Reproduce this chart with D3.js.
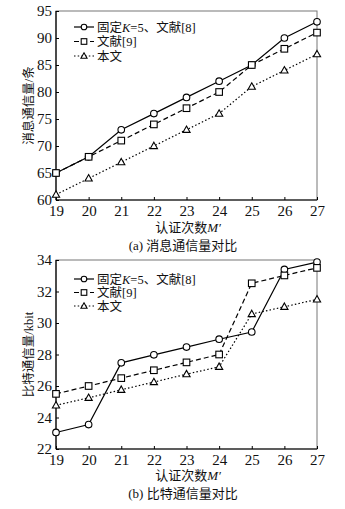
<!DOCTYPE html>
<html><head><meta charset="utf-8">
<script src="https://cdn.jsdelivr.net/npm/d3@7"></script>
<style>body{margin:0;background:#fff}svg{display:block}</style>
</head><body>
<svg id="c" width="345" height="509"></svg>
<script>
const xValues = [19,20,21,22,23,24,25,26,27];
const seriesNames = ["固定K=5、文献[8]","文献[9]","本文"];
const msgFixed = [65,68,73,76,79,82,85,90,93];
const msgRef9 = [65,68,71,74,77,80,85,88,91];
const msgOurs = [61,64,67,70,73,76,81,84,87];
const bitFixed = [23.05,23.55,27.47,27.98,28.47,28.97,29.43,33.4,33.87];
const bitRef9 = [25.5,26.0,26.5,27.0,27.5,28.0,32.52,33.02,33.5];
const bitOurs = [24.77,25.25,25.76,26.25,26.75,27.22,30.57,31.03,31.5];
const msgTicks = [60,65,70,75,80,85,90,95];
const bitTicks = [22,24,26,28,30,32,34];

const svg = d3.select("#c");
const serif = "'Liberation Serif','Times New Roman',serif";
const cjk = "'Liberation Serif','Noto Sans CJK SC',serif";

function chart(top, bottom, yDomain, yTicks, series, yLabel, xLabelY, caption, captionY, legendY) {
  const x = d3.scaleLinear().domain([19,27]).range([56,317]);
  const y = d3.scaleLinear().domain(yDomain).range([bottom, top]);
  const g = svg.append("g");
  g.append("rect").attr("x",56).attr("y",top).attr("width",261).attr("height",bottom-top)
    .attr("fill","none").attr("stroke","#777").attr("stroke-width",1);
  const ya = g.append("g").attr("transform","translate(56,0)")
    .call(d3.axisLeft(y).tickValues(yTicks).tickSize(-3).tickPadding(4).tickFormat(d3.format("d")));
  const xa = g.append("g").attr("transform",`translate(0,${bottom})`)
    .call(d3.axisBottom(x).tickValues(xValues).tickSize(-3).tickPadding(5).tickFormat(d3.format("d")));
  [ya,xa].forEach(a=>{
    a.select(".domain").attr("stroke","#000").attr("stroke-width",1.2);
    a.selectAll(".tick line").attr("stroke","#000");
    a.selectAll("text").attr("font-family",serif).attr("font-size",15).attr("fill","#111");
  });
  ya.select(".domain").attr("d",`M0,${top}V${bottom}`);
  xa.select(".domain").attr("d",`M56,0H317`);
  const styles = [
    {dash:null, marker:"circle"},
    {dash:"5,3", marker:"square"},
    {dash:"1.5,2.2", marker:"triangle"}
  ];
  series.forEach((vals,i)=>{
    const line = d3.line().x((d,j)=>x(xValues[j])).y(d=>y(d));
    g.append("path").attr("d",line(vals)).attr("fill","none").attr("stroke","#000")
      .attr("stroke-width",1.2).attr("stroke-dasharray",styles[i].dash);
  });
  function marker(sel, type, cx, cy, s) {
    s = s || 1;
    if (type==="circle") sel.append("circle").attr("cx",cx).attr("cy",cy).attr("r",3.3*s)
      .attr("fill","#fff").attr("stroke","#000").attr("stroke-width",1.1);
    else if (type==="square") sel.append("rect").attr("x",cx-3.3*s).attr("y",cy-3.3*s).attr("width",6.6*s).attr("height",6.6*s)
      .attr("fill","#fff").attr("stroke","#000").attr("stroke-width",1.1);
    else sel.append("path").attr("d",`M${cx},${cy-3.8*s}L${cx+3.6*s},${cy+2.6*s}L${cx-3.6*s},${cy+2.6*s}Z`)
      .attr("fill","#fff").attr("stroke","#000").attr("stroke-width",1.1);
  }
  series.forEach((vals,i)=>{
    vals.forEach((v,j)=>marker(g, styles[i].marker, x(xValues[j]), y(v)));
  });
  seriesNames.forEach((name,i)=>{
    const ly = legendY[i];
    g.append("line").attr("x1",74).attr("x2",94).attr("y1",ly).attr("y2",ly)
      .attr("stroke","#000").attr("stroke-width",1.2).attr("stroke-dasharray",styles[i].dash);
    marker(g, styles[i].marker, 84, ly, 0.85);
    const t = g.append("text").attr("x",97).attr("y",ly+4.5).attr("font-family",cjk).attr("font-size",12.5).attr("fill","#111");
    if (i===0) {
      t.append("tspan").text("固定");
      t.append("tspan").attr("font-style","italic").attr("font-family",serif).text("K");
      t.append("tspan").attr("font-family",serif).text("=5");
      t.append("tspan").text("、文献");
      t.append("tspan").attr("font-family",serif).text("[8]");
    } else if (i===1) {
      t.append("tspan").text("文献");
      t.append("tspan").attr("font-family",serif).text("[9]");
    } else t.text(name);
  });
  g.append("text").attr("transform",`translate(33,${(top+bottom)/2}) rotate(-90)`)
    .attr("text-anchor","middle").attr("font-family",cjk).attr("font-size",12.5).attr("fill","#111").text(yLabel);
  const xl = g.append("text").attr("x",188).attr("y",xLabelY).attr("text-anchor","middle")
    .attr("font-family",cjk).attr("font-size",13).attr("fill","#111");
  xl.append("tspan").text("认证次数");
  xl.append("tspan").attr("font-style","italic").attr("font-family",serif).text("M′");
  g.append("text").attr("x",183).attr("y",captionY).attr("text-anchor","middle")
    .attr("font-family",cjk).attr("font-size",13).attr("fill","#111").text(caption);
}

chart(11, 200, [60,95], msgTicks, [msgFixed,msgRef9,msgOurs], "消息通信量/条", 232, "(a) 消息通信量对比", 250, [27,41.5,56]);
chart(260, 449, [22,34], bitTicks, [bitFixed,bitRef9,bitOurs], "比特通信量/kbit", 480, "(b) 比特通信量对比", 498, [279,292.5,306]);
</script>
</body></html>
